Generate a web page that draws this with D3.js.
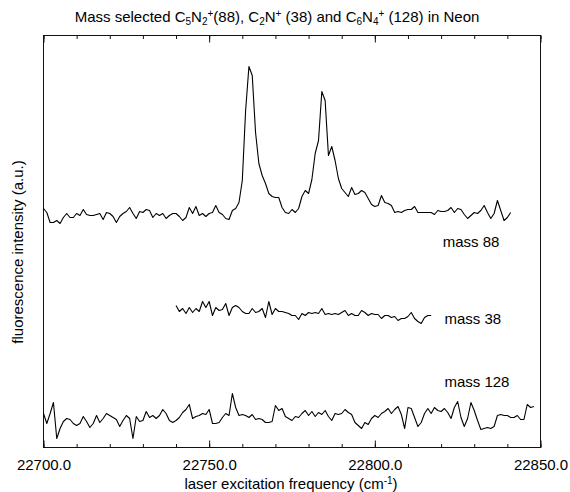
<!DOCTYPE html>
<html>
<head>
<meta charset="utf-8">
<script src="https://cdn.jsdelivr.net/npm/d3@7"></script>
<style>
  body { margin: 0; background: #fff; }
  text { font-family: "Liberation Sans", Arial, sans-serif; fill: #000; }
</style>
</head>
<body>
<svg id="chart" width="570" height="492"></svg>
<script>
// spectra sampled every 1 cm-1, intensity in arbitrary units (stacked with offsets)
const freqStep = 1;
const mass88Start = 22700;
const mass88 = [239,235,225,225,227,224,230,234,230,230,234,232,238,233,232,232,233,234,228,235,
  234,231,225,231,234,236,240,234,229,236,235,238,237,230,234,232,234,229,232,234,
  234,231,227,230,240,234,241,232,234,231,234,235,242,235,233,229,228,237,239,245,
  267,337,381,372,315,284,272,264,254,251,250,250,240,235,234,238,235,239,251,257,
  254,268,294,307,356,347,292,301,287,269,259,255,251,260,253,254,257,255,249,243,
  241,242,252,245,244,242,235,236,235,237,238,238,241,235,235,235,235,235,233,237,
  236,236,237,240,235,239,238,233,229,232,235,234,237,242,235,229,234,247,237,227,
  230,235];
const mass38Start = 22740;
const mass38 = [142,136,139,134,140,135,139,136,146,140,146,132,140,137,138,144,132,140,142,140,
  136,134,134,139,135,136,139,130,146,133,139,136,136,135,134,132,132,128,134,132,
  135,134,135,134,139,133,134,133,134,133,135,137,132,134,132,132,137,135,132,134,
  133,133,129,132,132,130,131,127,129,129,131,135,129,126,124,130,132,132];
const mass128Start = 22700;
const mass128 = [34,24,34,45,9,19,26,29,28,24,22,24,31,26,20,24,32,25,29,34,
  32,30,28,21,27,32,29,9,31,26,27,36,30,32,29,32,38,34,27,25,
  27,30,35,38,43,29,31,32,34,33,38,24,24,25,30,34,32,54,40,32,
  33,32,30,33,28,29,28,25,25,26,42,37,39,31,29,27,31,30,34,37,
  32,36,31,35,33,37,31,27,34,33,34,38,35,33,25,22,19,25,23,29,
  32,30,34,36,39,34,38,41,33,19,40,39,30,21,25,34,39,34,40,37,
  36,39,35,29,40,46,30,21,29,45,37,27,18,19,20,19,21,32,33,32,
  32,30,30,32,28,28,43,40,41];

const seriesLabels = ["mass 88", "mass 38", "mass 128"];
const labelFreq = [22820.5, 22821, 22821];
const labelLevel = [201, 124, 61];

const freqDomain = [22700, 22850];
const intensityDomain = [0, 412];
const majorTicks = [22700, 22750, 22800, 22850];
const minorTicks = d3.range(22700, 22851, 10);

const plot = { left: 43.5, right: 540.5, top: 35.5, bottom: 447.5 };

const svg = d3.select("#chart");

const x = d3.scaleLinear().domain(freqDomain).range([plot.left, plot.right]);
const y = d3.scaleLinear().domain(intensityDomain).range([plot.bottom, plot.top]);

// title
const title = svg.append("text")
  .attr("x", 277)
  .attr("y", 22)
  .attr("text-anchor", "middle")
  .style("font-size", "15px");
function part(t, s, shift) {
  const ts = title.append("tspan").text(t);
  if (s) ts.style("font-size", s + "px");
  if (shift) ts.attr("baseline-shift", shift);
}
part("Mass selected C");
part("5", 10, "-25%");
part("N");
part("2", 10, "-25%");
part("+", 10, "55%");
part("(88), C");
part("2", 10, "-25%");
part("N");
part("+", 10, "55%");
part(" (38) and C");
part("6", 10, "-25%");
part("N");
part("4", 10, "-25%");
part("+", 10, "55%");
part(" (128) in Neon");

// ticks: minor and major, pointing inward on bottom and top
svg.append("g")
  .attr("transform", `translate(0,${plot.bottom})`)
  .call(d3.axisBottom(x).tickValues(minorTicks).tickSize(-3.5).tickFormat(""));
const gBottom = svg.append("g")
  .attr("transform", `translate(0,${plot.bottom})`)
  .call(d3.axisBottom(x).tickValues(majorTicks).tickSize(-7).tickPadding(12).tickFormat(d3.format(".1f")));
svg.append("g")
  .attr("transform", `translate(0,${plot.top})`)
  .call(d3.axisTop(x).tickValues(minorTicks).tickSize(-3.5).tickFormat(""));
svg.append("g")
  .attr("transform", `translate(0,${plot.top})`)
  .call(d3.axisTop(x).tickValues(majorTicks).tickSize(-7).tickFormat(""));

svg.selectAll(".domain").remove();
svg.selectAll(".tick line").attr("stroke", "#111");
gBottom.selectAll(".tick text")
  .style("font-size", "15px")
  .style("font-family", '"Liberation Sans", Arial, sans-serif');

// frame
svg.append("rect")
  .attr("x", plot.left)
  .attr("y", plot.top)
  .attr("width", plot.right - plot.left)
  .attr("height", plot.bottom - plot.top)
  .attr("fill", "none")
  .attr("stroke", "#111")
  .attr("stroke-width", 1);

// spectra
const spectra = [
  { start: mass88Start, values: mass88 },
  { start: mass38Start, values: mass38 },
  { start: mass128Start, values: mass128 },
];
const line = d3.line()
  .x((d) => x(d.f))
  .y((d) => y(d.v));

svg.append("g")
  .selectAll("path")
  .data(spectra)
  .join("path")
  .attr("d", (s) => line(s.values.map((v, i) => ({ f: s.start + i * freqStep, v: v }))))
  .attr("fill", "none")
  .attr("stroke", "#000")
  .attr("stroke-width", 1.1)
  .attr("stroke-linejoin", "round");

// series labels
svg.append("g")
  .selectAll("text")
  .data(seriesLabels)
  .join("text")
  .attr("x", (d, i) => x(labelFreq[i]))
  .attr("y", (d, i) => y(labelLevel[i]))
  .style("font-size", "15px")
  .text((d) => d);

// axis titles
const xlab = svg.append("text")
  .attr("x", 291)
  .attr("y", 489)
  .attr("text-anchor", "middle")
  .style("font-size", "15px");
xlab.append("tspan").text("laser excitation frequency (cm");
xlab.append("tspan").text("-1").style("font-size", "10px").attr("baseline-shift", "55%");
xlab.append("tspan").text(")");

svg.append("text")
  .attr("transform", "translate(23,252) rotate(-90)")
  .attr("text-anchor", "middle")
  .style("font-size", "15px")
  .text("fluorescence intensity (a.u.)");
</script>
</body>
</html>
